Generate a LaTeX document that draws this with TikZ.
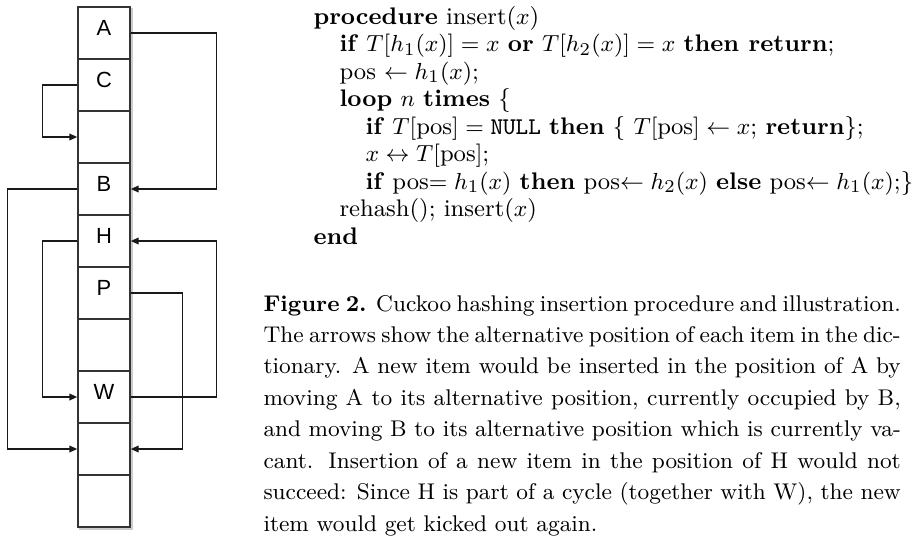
\documentclass[tikz,border=0pt]{standalone}
\usepackage{fontspec}
\usepackage{amsmath}
\usepackage{tikz}
\usetikzlibrary{arrows.meta, positioning, backgrounds, calc}
\newfontfamily\cellfont{Liberation Sans}

\begin{document}
\begin{tikzpicture}[
    x=0.3876pt, y=-0.3876pt,
    cell/.style={rectangle, draw=black!80, fill=white, line width=0.6pt, minimum width=20.2pt, minimum height=20.2pt, inner sep=0pt, text height=6pt, text depth=3.9pt, font=\cellfont\fontsize{8.5}{10}\selectfont},
    link/.style={-{Triangle[length=3pt, width=2.6pt]}, line width=0.45pt, black!90},
    code/.style={anchor=base west, inner sep=0pt, font=\fontsize{9.3}{11}\selectfont}
]
\useasboundingbox (0,0) rectangle (915,539);

% Hash table
\foreach \lab [count=\i from 0] in {A,C,{},B,H,P,{},W,{},{}}
    \node[cell] (c\i) at (104, 33+52*\i) {\lab};

\begin{scope}[on background layer]
\fill[black!20] ($(c0.north west)+(2,2)$) rectangle ($(c9.south east)+(2,2)$);
\end{scope}

% Alternative positions
\draw[link] (c0.east) -- ++(86,0) |- (c3.east);
\draw[link] (c1.west) -- ++(-35,0) |- (c2.west);
\draw[link] (c3.west) -- ++(-70,0) |- (c8.west);
\draw[link] (c4.west) -- ++(-35,0) |- (c7.west);
\draw[link] (c5.east) -- ++(52,0) |- (c8.east);
\draw[link] (c7.east) -- ++(86,0) |- (c4.east);

% Insertion procedure
\node[code] (l1) at (313, 24) {\textbf{procedure} insert($x$)};
\node[code] (l2) at (339, 51.5) {\textbf{if} $T[h_1(x)] = x$ \textbf{or} $T[h_2(x)] = x$ \textbf{then return};};
\node[code] (l3) at (339, 79) {pos $\leftarrow h_1(x)$;};
\node[code] (l4) at (339, 106.5) {\textbf{loop} $n$ \textbf{times} \{};
\node[code] (l5) at (365, 134) {\textbf{if} $T[\mathrm{pos}] = \mathtt{NULL}$ \textbf{then} \{ $T[\mathrm{pos}] \leftarrow x$; \textbf{return}\};};
\node[code] (l6) at (365, 161.5) {$x \leftrightarrow T[\mathrm{pos}]$;};
\node[code] (l7) at (365, 189) {\textbf{if} pos$= h_1(x)$ \textbf{then} pos$\leftarrow h_2(x)$ \textbf{else} pos$\leftarrow h_1(x)$;\}};
\node[code] (l8) at (339, 216.5) {rehash(); insert($x$)};
\node[code] (l9) at (313, 244) {\textbf{end}};

% Caption
\node[code, font=\fontsize{8.8}{12.2}\selectfont] (cap) at (263, 311) {\parbox[t]{247pt}{%
\makebox[\linewidth][s]{\textbf{Figure 2.} Cuckoo hashing insertion procedure and illustration.}\par
The arrows show the alternative position of each item in the dic-\linebreak
tionary.  A new item would be inserted in the position of A by\linebreak
moving A to its alternative position, currently occupied by B,\linebreak
and moving B to its alternative position which is currently va-\linebreak
cant.  Insertion of a new item in the position of H would not\linebreak
succeed: Since H is part of a cycle (together with W), the new\linebreak
item would get kicked out again.}};

\end{tikzpicture}
\end{document}
